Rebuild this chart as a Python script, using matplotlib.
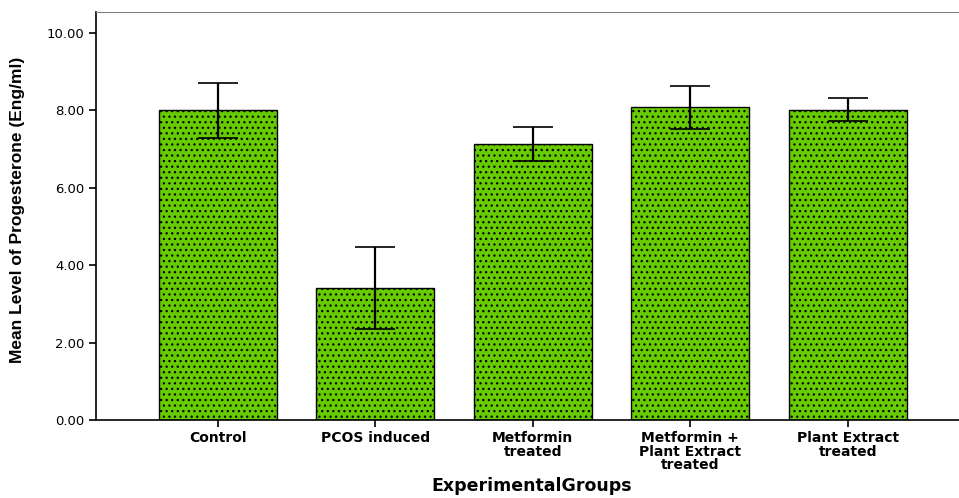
import numpy as np
import matplotlib
matplotlib.use("Agg")
import matplotlib.pyplot as plt

# group means and error
groups = ['Control', 'PCOS induced', 'Metformin\ntreated',
          'Metformin +\nPlant Extract\ntreated', 'Plant Extract\ntreated']
means = [8.00, 3.42, 7.13, 8.08, 8.02]
errors = [0.71, 1.06, 0.43, 0.56, 0.29]
yticks = [0, 2, 4, 6, 8, 10]

plt.rcParams['font.family'] = ['DejaVu Sans']
plt.rcParams['hatch.color'] = '#1f3d00'
plt.rcParams['hatch.linewidth'] = 0.9

fig = plt.figure(figsize=(9.59, 4.98), dpi=100)
ax = fig.add_axes([96 / 959, 78 / 498, 865 / 959, 408 / 498])

x = np.arange(len(groups))
ax.bar(x, means, width=0.75, color='#66cc00', edgecolor='black',
       linewidth=1.0, hatch='...')
ax.errorbar(x, means, yerr=errors, fmt='none', ecolor='black',
            elinewidth=1.6, capsize=14.5, capthick=1.2)

ax.set_xlim(-0.775, 4.72)
ax.set_ylim(0, 10.54)
ax.set_yticks(yticks)
ax.set_yticklabels([f'{v:.2f}' for v in yticks], fontsize=9.5)
ax.set_xticks(x)
ax.set_xticklabels(groups, fontsize=10, fontweight='bold', linespacing=0.95)
ax.tick_params(axis='both', direction='out', length=5, width=1.2, color='black')
ax.tick_params(axis='x', pad=3)

ax.spines['right'].set_visible(False)
ax.spines['top'].set_color('#808080')
ax.spines['left'].set_linewidth(1.2)
ax.spines['bottom'].set_linewidth(1.2)

ax.set_ylabel('Mean Level of Progesterone (Eng/ml)', fontsize=12.5,
              fontweight='bold', family=['Liberation Sans Narrow', 'Liberation Sans'],
              va='center')
ax.yaxis.set_label_coords(-(96 - 18) / 865, (420 - 210) / 408)
ax.set_xlabel('ExperimentalGroups', fontsize=12.5, fontweight='bold', va='center')
ax.xaxis.set_label_coords((532 - 96) / 865, -(486 - 420) / 408)

plt.savefig('out.png', dpi=100)
